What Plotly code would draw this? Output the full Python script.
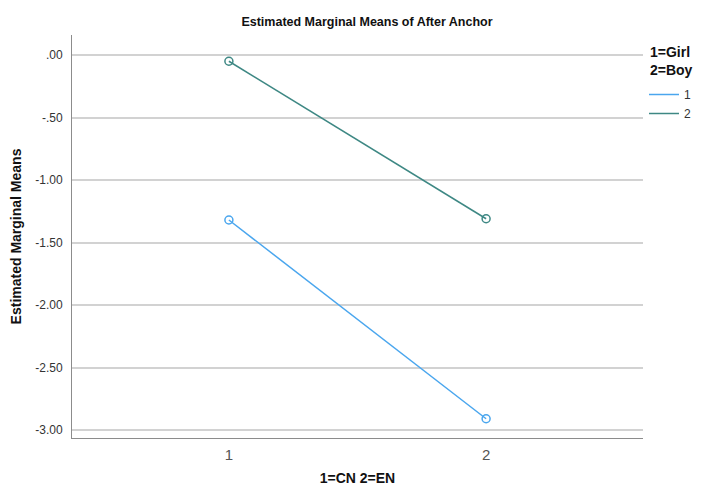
import plotly.graph_objects as go

# data
language = [1, 2]  # 1=CN 2=EN
girl_means = [-1.32, -2.91]
boy_means = [-0.05, -1.31]
series_names = ["1", "2"]
series_colors = ["#4aa6ee", "#3e8884"]
y_ticks = [0.0, -0.5, -1.0, -1.5, -2.0, -2.5, -3.0]
y_labels = [".00", "-.50", "-1.00", "-1.50", "-2.00", "-2.50", "-3.00"]

FONT = "Liberation Sans Narrow, Arial Narrow, Liberation Sans, Arial"

fig = go.Figure()
for name, vals, col in zip(series_names, [girl_means, boy_means], series_colors):
    fig.add_trace(go.Scatter(
        x=language, y=vals, name=name, mode="lines+markers", showlegend=False,
        line=dict(color=col, width=1.5),
        marker=dict(symbol="circle-open", size=8, color=col, line=dict(width=1.5)),
    ))
    # legend shows only the line sample, like SPSS
    fig.add_trace(go.Scatter(
        x=[None], y=[None], name=name, mode="lines",
        line=dict(color=col, width=1.5),
    ))

# page body has an 8px margin, keep the page from scrolling either way
fig.update_layout(
    width=686, height=478,
    margin=dict(l=64, r=51, t=27, b=48),
    paper_bgcolor="white", plot_bgcolor="white",
    font=dict(family=FONT, color="#222"),
    title=dict(text="<b>Estimated Marginal Means of After Anchor</b>",
               x=359 / 686, xanchor="center", y=1 - 14 / 478, yanchor="middle",
               font=dict(size=12.5, color="#111")),
    legend=dict(
        xref="container", yref="container",
        x=636 / 686, xanchor="left", y=1 - 72 / 478, yanchor="top",
        font=dict(size=12, color="#333"),
        itemwidth=30, tracegroupgap=0,
    ),
    showlegend=True,
)

# legend heading as separate text so the legend box stays narrow
fig.add_annotation(
    text="<b>1=Girl<br>2=Boy</b>", xref="paper", yref="paper",
    x=(648 - 72) / 571, y=1 + (35 - 61) / 403, xanchor="left", yanchor="middle",
    showarrow=False, align="left", font=dict(size=14, color="#111"),
)

fig.update_xaxes(
    range=[0.39, 2.61], tickvals=language, ticktext=["1", "2"],
    showgrid=False, zeroline=False, showline=True, linecolor="#8c8c8c", linewidth=1,
    ticks="", tickfont=dict(size=15, color="#555"), automargin=False, ticklabelstandoff=3,
    title=dict(text="<b>1=CN 2=EN</b>", font=dict(size=14, color="#111"), standoff=16),
)
fig.update_yaxes(
    range=[-3.064, 0.16], tickvals=y_ticks, ticktext=y_labels,
    showgrid=True, gridcolor="#d2d2d2", gridwidth=1.6, zeroline=False,
    showline=True, linecolor="#8c8c8c", linewidth=1, automargin=False,
    ticks="", tickfont=dict(size=12, color="#333"), ticklabelstandoff=6,
    title=dict(text="<b>Estimated Marginal Means</b>", font=dict(size=14, color="#111"), standoff=17),
)

fig.write_html("out.html")
